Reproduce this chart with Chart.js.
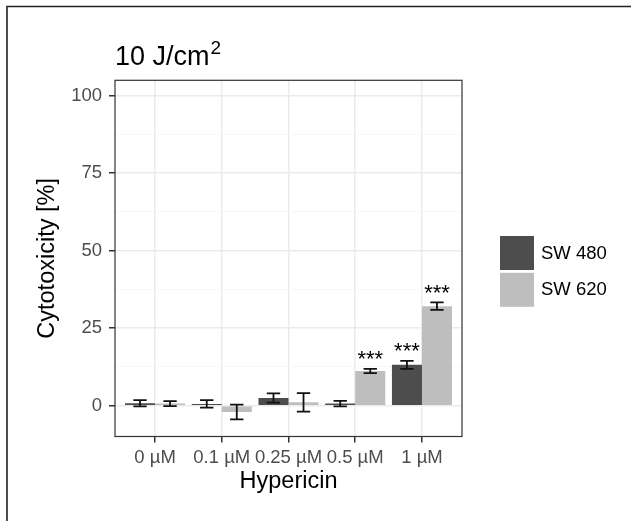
<!DOCTYPE html>
<html>
<head>
<meta charset="utf-8">
<script src="https://cdn.jsdelivr.net/npm/chart.js@4.4.0/dist/chart.umd.min.js"></script>
<style>
  html, body { margin: 0; padding: 0; background: #fff; }
  canvas { display: block; }
</style>
</head>
<body>
<canvas id="chart" width="631" height="521"></canvas>
<script>
var categories = ["0 µM", "0.1 µM", "0.25 µM", "0.5 µM", "1 µM"];
var seriesNames = ["SW 480", "SW 620"];
var sw480 = [0.8, 0.6, 2.5, 0.7, 13.2];
var sw480Err = [1.0, 1.2, 1.5, 0.9, 1.3];
var sw480Stars = ["", "", "", "", "***"];
var sw620 = [0.7, -2.0, 1.1, 11.2, 32.1];
var sw620Err = [0.8, 2.4, 3.0, 0.7, 1.2];
var sw620Stars = ["", "", "", "***", "***"];
var yTicks = [0, 12.5, 25, 37.5, 50, 62.5, 75, 87.5, 100];

var FONT = '"Liberation Sans", Arial, Helvetica, sans-serif';
Chart.defaults.font.family = FONT;

function points(values) {
    return values.map(function (v, i) { return { x: i, y: v }; });
}
function isMajor(c) {
    return c.tick && c.tick.value % 25 === 0;
}

var extras = {
    id: "extras",
    beforeDraw: function (chart) {
        var ctx = chart.ctx;
        ctx.save();
        ctx.fillStyle = "#fff";
        ctx.fillRect(0, 0, chart.width, chart.height);
        // outer figure frame (only left and top are visible)
        ctx.strokeStyle = "#222";
        ctx.lineWidth = 1.6;
        ctx.beginPath();
        ctx.moveTo(7, chart.height);
        ctx.lineTo(7, 6.5);
        ctx.lineTo(chart.width, 6.5);
        ctx.stroke();
        ctx.restore();
    },
    afterDatasetsDraw: function (chart) {
        var ctx = chart.ctx, xs = chart.scales.x, ys = chart.scales.y;
        var cap = xs.getPixelForValue(0.1) - xs.getPixelForValue(0);
        ctx.save();
        chart.data.datasets.forEach(function (ds, di) {
            var meta = chart.getDatasetMeta(di);
            meta.data.forEach(function (bar, j) {
                var v = ds.data[j].y, e = ds.errors[j];
                var top = ys.getPixelForValue(v + e), bot = ys.getPixelForValue(v - e);
                ctx.strokeStyle = "#111";
                ctx.lineWidth = 1.8;
                ctx.beginPath();
                ctx.moveTo(bar.x, top); ctx.lineTo(bar.x, bot);
                ctx.moveTo(bar.x - cap, top); ctx.lineTo(bar.x + cap, top);
                ctx.moveTo(bar.x - cap, bot); ctx.lineTo(bar.x + cap, bot);
                ctx.stroke();
                if (ds.stars[j]) {
                    ctx.fillStyle = "#000";
                    ctx.font = "22px " + FONT;
                    ctx.textAlign = "center";
                    ctx.textBaseline = "alphabetic";
                    ctx.fillText(ds.stars[j], bar.x, ys.getPixelForValue(v + e + 5) + 12.8);
                }
            });
        });
        // panel border
        var a = chart.chartArea;
        ctx.strokeStyle = "#333";
        ctx.lineWidth = 1.2;
        ctx.strokeRect(a.left, a.top, a.right - a.left, a.bottom - a.top);
        ctx.restore();
    },
    afterDraw: function (chart) {
        var ctx = chart.ctx;
        ctx.save();
        // title with superscript
        ctx.fillStyle = "#000";
        ctx.textAlign = "left";
        ctx.textBaseline = "alphabetic";
        ctx.font = "27px " + FONT;
        ctx.fillText("10 J/cm", 115, 65);
        var w = ctx.measureText("10 J/cm").width;
        ctx.font = "19px " + FONT;
        ctx.fillText("2", 115 + w + 1, 54);
        // legend
        chart.data.datasets.forEach(function (ds, i) {
            var top = 236 + i * 36.8;
            ctx.fillStyle = ds.backgroundColor;
            ctx.fillRect(500, top, 34, 34);
            ctx.fillStyle = "#000";
            ctx.font = "18.5px " + FONT;
            ctx.textBaseline = "middle";
            ctx.fillText(ds.label, 541, top + 17.5);
        });
        ctx.restore();
    }
};

var ctx = document.getElementById("chart").getContext("2d");
var myChart = new Chart(ctx, {
    type: "bar",
    data: {
        datasets: [
            {
                label: seriesNames[0],
                data: points(sw480),
                errors: sw480Err,
                stars: sw480Stars,
                backgroundColor: "#4d4d4d",
            },
            {
                label: seriesNames[1],
                data: points(sw620),
                errors: sw620Err,
                stars: sw620Stars,
                backgroundColor: "#bebebe",
            },
        ],
    },
    options: {
        responsive: false,
        animation: false,
        events: [],
        categoryPercentage: 0.9,
        barPercentage: 1.0,
        layout: { padding: { left: 0, top: 80.3, right: 169, bottom: 0 } },
        plugins: {
            legend: { display: false },
            tooltip: { enabled: false },
        },
        scales: {
            x: {
                type: "linear",
                offset: false,
                min: -0.6,
                max: 4.6,
                afterBuildTicks: function (s) {
                    s.ticks = categories.map(function (c, i) { return { value: i }; });
                },
                afterFit: function (s) { s.height = 84.5; },
                ticks: {
                    callback: function (v) { return categories[v]; },
                    color: "#4d4d4d",
                    font: { size: 18.5 },
                    padding: 4,
                    minRotation: 0,
                    maxRotation: 0,
                    autoSkip: false,
                },
                grid: { offset: false, color: "#ebebeb", lineWidth: 1.5, tickColor: "#333", tickLength: 6, tickWidth: 1.5 },
                border: { display: false },
                title: {
                    display: true,
                    text: "Hypericin",
                    color: "#000",
                    font: { size: 23.5 },
                    padding: { top: 0, bottom: 25.4 },
                },
            },
            y: {
                min: -9.9,
                max: 104.9,
                afterBuildTicks: function (s) {
                    s.ticks = yTicks.map(function (v) { return { value: v }; });
                },
                afterFit: function (s) { s.width = 115; },
                ticks: {
                    callback: function (v) { return v % 25 === 0 ? String(v) : ""; },
                    color: "#4d4d4d",
                    font: { size: 18.5 },
                    padding: 7,
                },
                grid: {
                    color: function (c) { return isMajor(c) ? "#ebebeb" : "#f5f5f5"; },
                    lineWidth: function (c) { return isMajor(c) ? 1.5 : 0.8; },
                    tickColor: function (c) { return isMajor(c) ? "#333" : "rgba(0,0,0,0)"; },
                    tickLength: 6,
                    tickWidth: 1.5,
                },
                border: { display: false },
                title: {
                    display: true,
                    text: "Cytotoxicity [%]",
                    color: "#000",
                    font: { size: 23.5 },
                    padding: { top: 33, bottom: 0 },
                },
            },
        },
    },
    plugins: [extras],
});
</script>
</body>
</html>
